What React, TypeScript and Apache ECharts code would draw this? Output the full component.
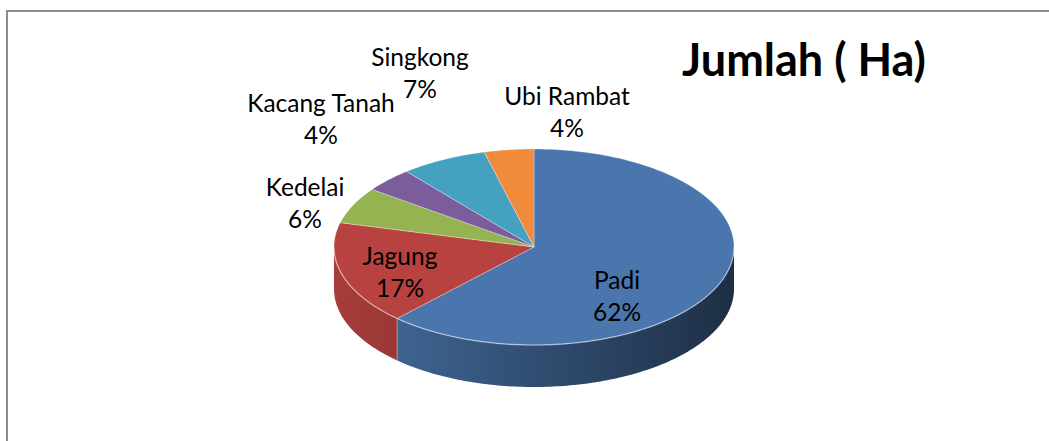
import React, { useEffect, useRef } from 'react';
import * as echarts from 'echarts';

const categories = ['Padi', 'Jagung', 'Kedelai', 'Kacang Tanah', 'Singkong', 'Ubi Rambat'];
const values = [62, 17, 6, 4, 7, 4];
const chartTitle = 'Jumlah ( Ha)';
const colors = ['#4A76AD', '#B7423F', '#95B451', '#7B5D9D', '#44A2C0', '#F08B3C'];

// layout (not data)
const CX = 534, CY = 247, RX = 200, RY = 98, DEPTH = 42;
const labelPos: number[][] = [[617, 295], [400, 271], [305, 202], [321, 118], [420, 72], [567, 111]];
const FONT = 'Lato';

function shade(hex: string, f: number): string {
  const n = parseInt(hex.slice(1), 16);
  const r = Math.round(((n >> 16) & 255) * f);
  const g = Math.round(((n >> 8) & 255) * f);
  const b = Math.round((n & 255) * f);
  return `rgb(${r},${g},${b})`;
}

export default function App() {
  const ref = useRef<HTMLDivElement>(null);
  useEffect(() => {
    if (!ref.current) return;
    const chart = echarts.init(ref.current, undefined, { renderer: 'svg' });
    const total = values.reduce((a, b) => a + b, 0);
    const cum: number[] = [0];
    values.forEach((v, i) => cum.push(cum[i] + v));
    const TAU = Math.PI * 2;
    const pt = (a: number, dy = 0) => [CX + RX * Math.sin(a), CY - RY * Math.cos(a) + dy];
    const arcPts = (a0: number, a1: number, dy = 0) => {
      const n = Math.max(2, Math.ceil(((a1 - a0) / TAU) * 360));
      const out: number[][] = [];
      for (let k = 0; k <= n; k++) out.push(pt(a0 + ((a1 - a0) * k) / n, dy));
      return out;
    };

    const option: any = {
      animation: false,
      graphic: [
        {
          type: 'rect',
          shape: { x: 7, y: 11, width: 1100, height: 500 },
          style: { fill: 'none', stroke: '#8c8c8c', lineWidth: 2 },
          silent: true,
        },
        {
          type: 'text',
          x: 804,
          y: 59,
          style: {
            text: chartTitle,
            font: `bold 45px ${FONT}`,
            fill: '#000',
            align: 'center',
            verticalAlign: 'middle',
          },
        },
      ],
      series: [
        {
          type: 'custom',
          coordinateSystem: 'none',
          data: values.map((v, i) => ({ name: categories[i], value: v })),
          renderItem: (params: any, api: any) => {
            const i = params.dataIndex;
            const v = api.value(0) as number;
            const a0 = (cum[i] / total) * TAU;
            const a1 = a0 + (v / total) * TAU;
            const base = colors[i];
            const children: any[] = [];
            const s0 = Math.max(a0, Math.PI / 2);
            const s1 = Math.min(a1, (3 * Math.PI) / 2);
            if (s1 > s0) {
              const upper = arcPts(s0, s1);
              const lower = arcPts(s0, s1, DEPTH).reverse();
              children.push({
                type: 'polygon',
                shape: { points: upper.concat(lower) },
                style: {
                  fill: new echarts.graphic.LinearGradient(
                    CX - RX, 0, CX + RX, 0,
                    [
                      { offset: 0, color: shade(base, 0.92) },
                      { offset: 0.5, color: shade(base, 0.66) },
                      { offset: 1, color: shade(base, 0.4) },
                    ],
                    true
                  ),
                  stroke: 'none',
                },
              });
              children.push({
                type: 'polyline',
                shape: { points: arcPts(s0, s1) },
                style: { stroke: 'rgba(255,255,255,0.3)', lineWidth: 1.5, fill: 'none' },
                z2: 5,
              });
            }
            if (a0 > Math.PI / 2 && a0 < (3 * Math.PI) / 2) {
              const p = pt(a0);
              children.push({
                type: 'line',
                shape: { x1: p[0], y1: p[1], x2: p[0], y2: p[1] + DEPTH },
                style: { stroke: 'rgba(255,255,255,0.35)', lineWidth: 1 },
                z2: 5,
              });
            }
            children.push({
              type: 'polygon',
              shape: { points: [[CX, CY]].concat(arcPts(a0, a1)) },
              style: { fill: base, stroke: 'rgba(255,255,255,0.3)', lineWidth: 1 },
              z2: 2,
            });
            const pct = Math.round((v / total) * 100) + '%';
            children.push({
              type: 'text',
              x: labelPos[i][0],
              y: labelPos[i][1],
              z2: 100,
              style: {
                text: categories[i] + '\n' + pct,
                font: `24.5px ${FONT}`,
                lineHeight: 32,
                fill: '#000',
                align: 'center',
                verticalAlign: 'middle',
              },
            });
            return { type: 'group', children };
          },
        },
      ],
    };
    chart.setOption(option);
    return () => chart.dispose();
  }, []);
  return (
    <div
      ref={ref}
      style={{ position: 'fixed', left: 0, top: 0, width: 1049, height: 441, background: '#fff' }}
    />
  );
}
